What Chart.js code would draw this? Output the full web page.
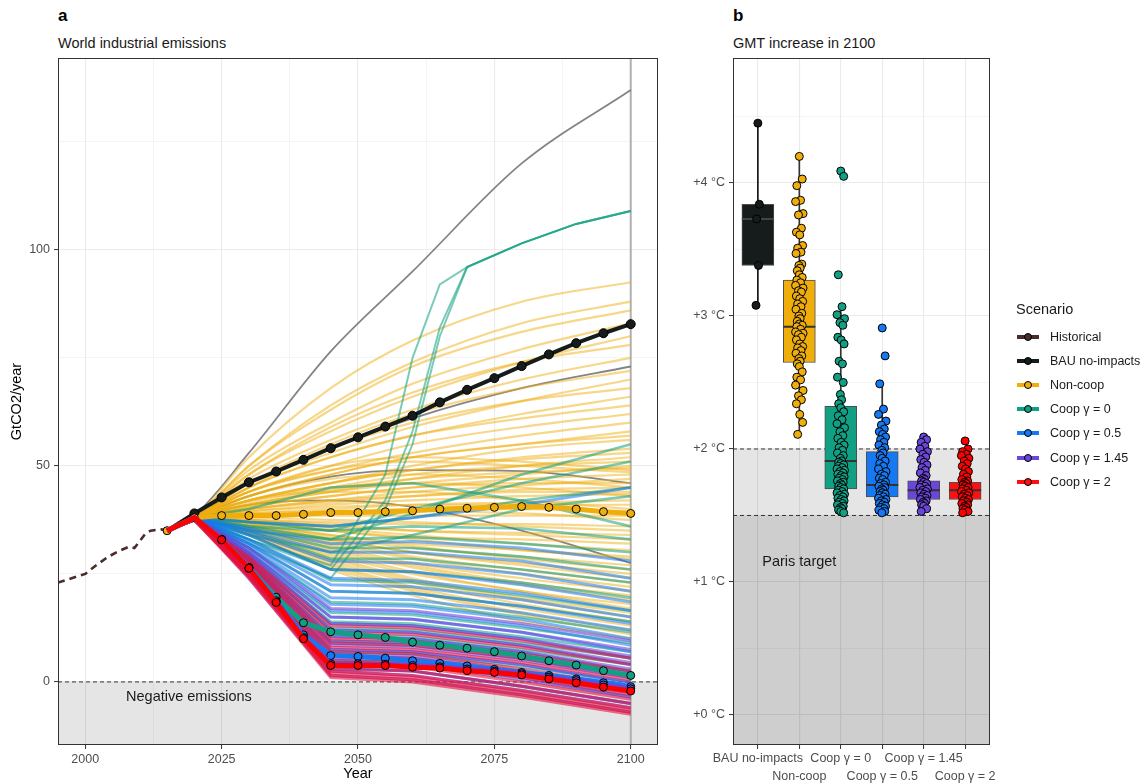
<!DOCTYPE html>
<html>
<head>
<meta charset="utf-8">
<script src="https://cdn.jsdelivr.net/npm/chart.js@4.4.1/dist/chart.umd.min.js"></script>
<style>
  body { margin: 0; background: #fff; font-family: "Liberation Sans", Arial, sans-serif; }
  #page { position: relative; width: 1145px; height: 783px; overflow: hidden; }
  .tag { position: absolute; top: 6px; font-size: 17px; font-weight: bold; color: #000; }
  .sub { position: absolute; top: 35px; font-size: 14.5px; color: #1a1a1a; }
  canvas { position: absolute; top: 0; }
  #legend { position: absolute; left: 1016px; top: 0; width: 129px; height: 783px; color: #1a1a1a; }
  #legend .ltitle { position: absolute; left: 0; top: 301px; font-size: 14.5px; }
  #legend .item { position: absolute; left: 0; height: 16px; line-height: 16px; font-size: 12.5px; white-space: nowrap; }
  #legend svg { position: absolute; left: 1px; top: 2px; }
  #legend span { position: absolute; left: 34px; top: 0; }
</style>
</head>
<body>
<div id="page">
  <div class="tag" style="left:58px">a</div>
  <div class="sub" style="left:58px">World industrial emissions</div>
  <div class="tag" style="left:733px">b</div>
  <div class="sub" style="left:733px">GMT increase in 2100</div>
  <canvas id="chartA" width="680" height="783" style="left:0"></canvas>
  <canvas id="chartB" width="465" height="783" style="left:680px"></canvas>
  <div id="legend"><div class="ltitle">Scenario</div></div>
</div>
<script>
Chart.defaults.font.family = '"Liberation Sans", Arial, sans-serif';
Chart.defaults.animation = false;

// ---------- panel a : emissions (GtCO2/year) ----------
const yearTicks = [2000, 2025, 2050, 2075, 2100];
const emissionTicks = [0, 50, 100];
const horizonYear = 2100;

const histYears = [1995, 1997, 2000, 2002, 2004, 2006, 2008, 2009, 2010, 2011, 2012, 2013, 2014, 2015];
const histValues = [23.0, 23.8, 25.0, 27.0, 28.8, 30.2, 31.3, 31.0, 32.6, 34.3, 35.0, 35.2, 35.3, 35.0];

// medians, one value every 5 years
const stepYears = [2015, 2020, 2025, 2030, 2035, 2040, 2045, 2050, 2055, 2060, 2065, 2070, 2075, 2080, 2085, 2090, 2095, 2100];
const bauValues     = [35, 39, 42.7, 46.2, 48.7, 51.4, 54.1, 56.6, 59.1, 61.6, 64.7, 67.6, 70.3, 73.1, 75.8, 78.4, 80.7, 82.8];
const nonCoopMedian = [35, 38, 38.5, 38.5, 38.5, 38.8, 39.2, 39.2, 39.4, 39.6, 40.0, 40.2, 40.4, 40.6, 40.4, 40.0, 39.4, 39.0];
const coop0Median   = [35, 38, 33.0, 26.5, 19.6, 13.7, 11.6, 10.9, 10.3, 9.2, 8.5, 7.8, 7.0, 6.0, 4.9, 3.9, 2.6, 1.5];
const coop05Median  = [35, 38, 33.0, 26.5, 18.8, 10.9, 6.1, 5.9, 5.5, 4.9, 4.3, 3.7, 2.9, 2.2, 1.5, 0.7, -0.2, -1.1];
const coop145Median = [35, 38, 32.9, 26.3, 18.5, 10.3, 4.2, 4.2, 4.1, 3.8, 3.5, 3.0, 2.5, 1.9, 1.1, 0.3, -0.7, -1.6];
const coop2Median   = [35, 38, 32.9, 26.3, 18.4, 10.0, 3.8, 3.8, 3.8, 3.4, 3.2, 2.6, 2.2, 1.6, 0.7, -0.2, -1.2, -2.1];

// individual runs, read at a few years
const lineYears = [2015, 2020, 2030, 2045, 2060, 2080, 2100];
const grayLines = [
  [35, 38.5, 53, 76.5, 95, 120, 137],
  [35, 38, 46, 54, 61, 68, 73],
  [35, 38, 43, 47.5, 49, 48.8, 46],
  [35, 38, 41, 42, 40.5, 35, 27.5]
];
const nonCoopLines = [
  [35, 38, 52, 68, 79, 88, 92.5],
  [35, 38, 50, 64, 74, 83, 88],
  [35, 38, 50, 63, 73, 81, 86],
  [35, 38, 49, 60, 69, 77, 83],
  [35, 38, 48, 58, 66, 74, 80],
  [35, 38, 48, 59, 67, 74, 78],
  [35, 38, 47, 56, 63, 70, 75],
  [35, 38, 46, 55, 62, 68, 72],
  [35, 38, 46, 53, 59, 65, 70],
  [35, 38, 45, 54, 60, 65, 68],
  [35, 38, 45, 52, 57, 62, 66],
  [35, 38, 45, 52, 57, 61, 64],
  [35, 38, 44, 50, 55, 59, 62],
  [35, 38, 44, 49, 53, 57, 60],
  [35, 38, 43, 48, 52, 55, 58],
  [35, 38, 43, 48, 52, 55, 57],
  [35, 38, 42, 46, 50, 54, 56],
  [35, 38, 42, 46, 49, 52, 54],
  [35, 38, 42, 46, 49, 51.5, 53],
  [35, 38, 41, 44, 47, 50, 52],
  [35, 38, 41.5, 45, 48, 50, 51],
  [35, 38, 41, 44, 46, 48, 50],
  [35, 38, 41, 44.5, 47, 48.5, 49.5],
  [35, 38, 44, 50, 52, 51, 49],
  [35, 38, 44, 49, 51, 50, 48.5],
  [35, 38, 40.5, 43, 45, 47, 48],
  [35, 38, 40, 42, 44, 45.5, 47],
  [35, 38, 40.5, 43, 45, 46, 46],
  [35, 38, 43, 47, 48, 47, 45],
  [35, 38, 40, 41.5, 43, 44.5, 45],
  [35, 38, 40, 42, 43, 44, 44],
  [35, 38, 39.5, 41, 42, 43, 43.5],
  [35, 38, 42, 45, 46, 45, 43],
  [35, 38, 39, 40, 41, 41.5, 42],
  [35, 38, 39.5, 40.5, 41, 41, 41],
  [35, 38, 42, 44, 44, 42, 40],
  [35, 38, 39, 39.5, 40, 40, 39.5],
  [35, 38, 38.5, 38.5, 38.5, 38.5, 38.5],
  [35, 38, 38.5, 39, 39.5, 39, 37.5],
  [35, 38, 37.5, 37, 36.5, 36.5, 36],
  [35, 38, 38, 37.5, 37, 36, 35],
  [35, 38, 37.5, 36, 35, 34.5, 34],
  [35, 38, 37.5, 36.5, 35, 34, 33],
  [35, 38, 37, 35, 33.5, 33, 32],
  [35, 38, 37, 35.5, 34, 32, 30.5],
  [35, 38, 36.5, 34, 32, 30.5, 29],
  [35, 38, 37, 35, 33, 30.5, 28.5],
  [35, 38, 36.5, 33.5, 31, 29, 27],
  [35, 38, 36.5, 34, 31.5, 28.5, 26],
  [35, 38, 36, 33, 30, 27.5, 25],
  [35, 38, 36, 33, 30, 27, 24],
  [35, 38, 36, 32.5, 29, 26, 23],
  [35, 38, 36, 32, 28.5, 25, 22],
  [35, 38, 35.5, 31.5, 27.5, 24, 21],
  [35, 38, 35.5, 31, 27, 23, 20],
  [35, 38, 35.5, 30.5, 26.5, 22.5, 19],
  [35, 38, 35, 30, 25.5, 21, 18],
  [35, 38, 35, 29.5, 25, 21, 17],
  [35, 38, 35, 29, 24, 19.5, 16],
  [35, 38, 34.5, 28.5, 23.5, 19, 15],
  [35, 38, 34.5, 28, 23, 18, 14],
  [35, 38, 34.5, 27.5, 22, 17, 13],
  [35, 38, 34, 27, 21.5, 16, 12],
  [35, 38, 34, 26.5, 21, 15.5, 11],
  [35, 38, 34, 26, 20, 14, 10]
];
const coop0Lines = [
  [35, 38, 25.5, 5, 4.5, 1.5, -2],
  [35, 38, 26.5, 7, 6.5, 3.5, 0],
  [35, 38, 27.5, 9.5, 9, 6, 2.5],
  [35, 38, 28, 11, 10.5, 7.5, 4],
  [35, 38, 28.5, 12.5, 12, 9, 5.5],
  [35, 38, 29.5, 14, 13.5, 10.5, 7],
  [35, 38, 30, 16, 15.5, 12.5, 9],
  [35, 38, 31, 18.5, 18, 15, 11.5],
  [35, 38, 32, 21, 20.5, 17.5, 14],
  [35, 38, 33, 23.5, 23, 20, 16.5],
  [35, 38, 34, 26, 25.5, 23, 19.5],
  [35, 38, 35, 28.5, 28.5, 26, 23],
  [35, 38, 35.5, 31, 31, 29, 26],
  [35, 38, 36, 33, 33.5, 32, 30],
  [35, 38, 37, 35, 36, 35.5, 33],
  [35, 38, 37, 36, 38, 42, 45],
  [35, 38, 35, 33, 39, 48, 55],
  [35, 38, 36, 35, 40, 46, 51],
  [35, 38, 40, 45, 46, 42, 36],
  [35, 38, 34, 30, 34, 40, 43]
];
const jumpYears = [2015, 2020, 2030, 2045, 2055, 2060, 2065, 2070, 2080, 2090, 2100];
const coop0JumpLines = [
  [35, 38, 33, 27, 48, 75, 92, 96, 101.5, 106, 109],
  [35, 38, 33, 26, 42, 58, 82, 96, 101.5, 106, 109],
  [35, 38, 32, 24, 40, 55, 80, 96, 101.5, 106, 109]
];
const coop05Lines = [
  [35, 38, 25, 3, 2.5, -1, -5],
  [35, 38, 26, 4.5, 4, 1, -3.5],
  [35, 38, 26.5, 6, 5.5, 2.5, -2],
  [35, 38, 27, 7.5, 7, 4, -0.5],
  [35, 38, 27.5, 9, 8.5, 5.5, 1],
  [35, 38, 28, 10.5, 10, 7, 2.5],
  [35, 38, 29, 12, 11.5, 8.5, 4],
  [35, 38, 29.5, 13.5, 13, 10, 5.5],
  [35, 38, 30, 15, 14.5, 11.5, 7],
  [35, 38, 30.5, 16.5, 16, 13, 8.5],
  [35, 38, 31, 18, 17.5, 14.5, 10],
  [35, 38, 31.5, 19.5, 19, 16, 12],
  [35, 38, 32, 21, 20.5, 17.5, 13.5],
  [35, 38, 32.5, 22.5, 22, 19, 15],
  [35, 38, 33, 24, 23.5, 20.5, 16.5],
  [35, 38, 34, 26, 25.5, 22.5, 18.5],
  [35, 38, 34.5, 28, 27.5, 25, 21],
  [35, 38, 35, 30, 30, 28, 24],
  [35, 38, 35.5, 32, 32.5, 31, 28],
  [35, 38, 37, 36, 38, 41, 45]
];
const coop145Lines = [
  [35, 38, 24, 1.5, 0.5, -3, -7],
  [35, 38, 24.5, 2.5, 1.5, -2, -6],
  [35, 38, 25, 3.5, 2.5, -1, -5],
  [35, 38, 25.5, 4.5, 4, 0.5, -3.5],
  [35, 38, 26, 5.5, 5, 1.5, -2.5],
  [35, 38, 26.5, 6.5, 6, 2.5, -1.5],
  [35, 38, 27, 7.5, 7, 4, 0],
  [35, 38, 27.5, 8.5, 8, 5, 1],
  [35, 38, 28, 9.5, 9, 6, 2],
  [35, 38, 28.5, 10.5, 10, 7, 3],
  [35, 38, 29, 12, 11.5, 8.5, 4.5],
  [35, 38, 29.5, 13.5, 13, 10, 6],
  [35, 38, 30, 15, 14.5, 11.5, 7.5],
  [35, 38, 31, 17, 16.5, 13.5, 9.5]
];
const coop2Lines = [
  [35, 37.5, 24, 1, 0, -3.5, -7.5],
  [35, 37.5, 24.5, 1.5, 0.5, -3, -7],
  [35, 37.5, 24.5, 2, 1, -2.5, -6.5],
  [35, 37.5, 25, 2.5, 1.5, -2, -6],
  [35, 37.5, 25, 3, 2.5, -1, -5],
  [35, 37.5, 25.5, 4, 3.5, 0, -4],
  [35, 37.5, 26, 5, 4.5, 1, -3],
  [35, 37.5, 26, 6, 5.5, 2, -2],
  [35, 37.5, 26.5, 7, 6.5, 3, -1],
  [35, 37.5, 27, 8, 7.5, 4.5, 0.5],
  [35, 37.5, 27.5, 9, 8.5, 5.5, 1.5],
  [35, 37.5, 28, 10, 9.5, 6.5, 2.5],
  [35, 37.5, 28.5, 11.5, 11, 8, 4],
  [35, 37.5, 29, 13, 12.5, 9.5, 5.5]
];

// ---------- panel b : GMT increase in 2100 ----------
const scenarioNames  = ['Historical', 'BAU no-impacts', 'Non-coop', 'Coop \u03b3 = 0', 'Coop \u03b3 = 0.5', 'Coop \u03b3 = 1.45', 'Coop \u03b3 = 2'];
const scenarioColors = ['#4b2c2c', '#161b1b', '#f0ae0c', '#12a085', '#1679f2', '#6b46da', '#ff1010'];
const boxCategories = ['BAU no-impacts', 'Non-coop', 'Coop \u03b3 = 0', 'Coop \u03b3 = 0.5', 'Coop \u03b3 = 1.45', 'Coop \u03b3 = 2'];
const tempTicks = [0, 1, 2, 3, 4];
const parisLimits = [2, 1.5];

const boxLow     = [3.38, 2.65, 1.70, 1.64, 1.62, 1.62];
const boxMedian  = [3.73, 2.92, 1.91, 1.73, 1.69, 1.69];
const boxHigh    = [3.84, 3.27, 2.32, 1.98, 1.76, 1.75];
const whiskerLow  = [3.08, 2.11, 1.52, 1.52, 1.53, 1.52];
const whiskerHigh = [4.45, 4.20, 3.07, 2.49, 2.00, 1.95];

const bauTemps = [4.45, 3.84, 3.73, 3.38, 3.08];
const nonCoopTemps = [4.2, 4.03, 3.98, 3.87, 3.86, 3.77, 3.76, 3.66, 3.63, 3.61, 3.53, 3.51, 3.48, 3.47, 3.39, 3.38, 3.36, 3.34,
  3.31, 3.29, 3.27, 3.25, 3.23, 3.21, 3.19, 3.18, 3.15, 3.13, 3.11, 3.09, 3.07, 3.05, 3.02, 3.0, 2.98, 2.96, 2.94, 2.93, 2.92,
  2.9, 2.88, 2.87, 2.86, 2.84, 2.82, 2.79, 2.77, 2.76, 2.74, 2.72, 2.7, 2.68, 2.66, 2.64, 2.62, 2.58, 2.54, 2.52, 2.48, 2.44,
  2.4, 2.37, 2.34, 2.26, 2.2, 2.11];
const coop0Temps = [4.09, 4.05, 3.31, 3.07, 3.01, 2.98, 2.95, 2.93, 2.84, 2.82, 2.79, 2.66, 2.64, 2.54, 2.5, 2.41, 2.37, 2.34,
  2.31, 2.28, 2.25, 2.22, 2.19, 2.16, 2.13, 2.1, 2.08, 2.05, 2.03, 2.01, 1.99, 1.97, 1.95, 1.93, 1.91, 1.9, 1.89, 1.88, 1.87,
  1.86, 1.85, 1.84, 1.83, 1.82, 1.81, 1.8, 1.79, 1.78, 1.77, 1.76, 1.75, 1.74, 1.73, 1.72, 1.71, 1.7, 1.69, 1.68, 1.67, 1.66,
  1.65, 1.64, 1.63, 1.62, 1.61, 1.6, 1.59, 1.58, 1.57, 1.56, 1.55, 1.54, 1.53, 1.52];
const coop05Temps = [2.91, 2.7, 2.49, 2.3, 2.26, 2.21, 2.18, 2.15, 2.13, 2.11, 2.09, 2.07, 2.05, 2.03, 2.01, 1.99, 1.97, 1.95,
  1.93, 1.91, 1.89, 1.87, 1.85, 1.83, 1.81, 1.8, 1.78, 1.77, 1.75, 1.74, 1.73, 1.72, 1.71, 1.7, 1.69, 1.68, 1.67, 1.66, 1.65,
  1.64, 1.63, 1.62, 1.61, 1.6, 1.59, 1.58, 1.57, 1.56, 1.55, 1.54, 1.53, 1.52];
const coop145Temps = [2.09, 2.07, 2.05, 2.02, 2.0, 1.98, 1.96, 1.94, 1.92, 1.9, 1.88, 1.86, 1.84, 1.82, 1.8, 1.78, 1.77, 1.76,
  1.75, 1.74, 1.73, 1.72, 1.71, 1.7, 1.69, 1.68, 1.67, 1.66, 1.65, 1.64, 1.63, 1.62, 1.61, 1.6, 1.59, 1.58, 1.57, 1.55, 1.53];
const coop2Temps = [2.06, 2.0, 1.98, 1.96, 1.95, 1.93, 1.91, 1.89, 1.87, 1.85, 1.83, 1.81, 1.79, 1.77, 1.76, 1.75, 1.74, 1.73,
  1.72, 1.71, 1.7, 1.69, 1.68, 1.67, 1.66, 1.65, 1.64, 1.63, 1.62, 1.61, 1.6, 1.59, 1.58, 1.57, 1.56, 1.55, 1.54, 1.53, 1.52];
const jitterPattern = [0.00, 0.07, -0.06, 0.03, -0.09, 0.09, -0.02, 0.05, -0.07, 0.01, 0.08, -0.04, 0.04, -0.08, 0.06, -0.01, 0.02, -0.05];

// ---------- shared plugins ----------
const panelBorder = {
  id: 'panelBorder',
  afterDraw(chart) {
    const { ctx, chartArea: a } = chart;
    ctx.save();
    ctx.strokeStyle = '#333';
    ctx.lineWidth = 1;
    ctx.strokeRect(a.left + 0.5, a.top + 0.5, a.width - 1, a.height - 1);
    ctx.restore();
  }
};
const notes = {
  id: 'notes',
  afterDatasetsDraw(chart, args, opts) {
    const ctx = chart.ctx;
    ctx.save();
    ctx.font = '14.5px "Liberation Sans", Arial, sans-serif';
    ctx.fillStyle = '#1a1a1a';
    ctx.textAlign = 'center';
    ctx.textBaseline = 'middle';
    opts.items.forEach(n => {
      ctx.fillText(n.text, chart.scales.x.getPixelForValue(n.x), chart.scales.y.getPixelForValue(n.y));
    });
    ctx.restore();
  }
};

const gridStyle = (majors) => ({
  color: '#ebebeb',
  offset: false,
  lineWidth: c => (c.tick && majors.includes(c.tick.value)) ? 1.1 : 0.55,
  tickColor: c => (c.tick && majors.includes(c.tick.value)) ? '#333' : 'rgba(0,0,0,0)',
  tickWidth: 1,
  tickLength: 4,
  drawTicks: true
});
// majors plus the half-way minor lines, kept inside the axis range
const withMinors = (majors, lo, hi) => {
  const step = majors[1] - majors[0];
  const out = [];
  for (let v = majors[0] - step / 2; v <= majors[majors.length - 1] + step / 2 + 1e-9; v += step / 2) {
    if (v >= lo && v <= hi) out.push(v);
  }
  return out;
};

// ---------- chart a ----------
const yearMin = 1995, yearMax = 2105, emisMin = -14.6, emisMax = 144.4;
const layersA = [];
const pts = (xs, ys) => xs.map((x, i) => ({ x: x, y: ys[i] }));
const addLine = (xs, ys, color, width, extra) => {
  layersA.push(Object.assign({
    type: 'line', data: pts(xs, ys), borderColor: color, borderWidth: width,
    pointRadius: 0, fill: false, tension: 0
  }, extra || {}));
};
const smooth = { cubicInterpolationMode: 'monotone' };

layersA.push({ type: 'line', data: [{ x: yearMin, y: 0 }, { x: yearMax, y: 0 }], fill: 'start',
  backgroundColor: 'rgba(0,0,0,0.1)', borderColor: '#333', borderWidth: 1, borderDash: [4, 3], pointRadius: 0 });
layersA.push({ type: 'line', data: [{ x: horizonYear, y: emisMin }, { x: horizonYear, y: emisMax }],
  borderColor: '#b0b0b0', borderWidth: 2, pointRadius: 0 });

grayLines.forEach(v => addLine(lineYears, v, 'rgba(110,110,110,0.85)', 1.8, smooth));
nonCoopLines.forEach(v => addLine(lineYears, v, 'rgba(240,176,20,0.5)', 2.2, smooth));
coop0Lines.forEach(v => addLine(lineYears, v, 'rgba(16,158,128,0.55)', 2.6));
coop0JumpLines.forEach(v => addLine(jumpYears, v, 'rgba(16,158,128,0.55)', 2));
coop05Lines.forEach(v => addLine(lineYears, v, 'rgba(22,120,240,0.55)', 3));
coop145Lines.forEach(v => addLine(lineYears, v, 'rgba(112,66,214,0.6)', 3));
coop2Lines.forEach(v => addLine(lineYears, v, 'rgba(232,16,60,0.6)', 3));

addLine(histYears, histValues, scenarioColors[0], 2.6, { borderDash: [7, 5] });

const medianLayer = (values, color, width, firstPoint, radius) => addLine(stepYears, values, color, width, {
  pointRadius: c => c.dataIndex < firstPoint ? 0 : radius,
  pointBackgroundColor: color, pointBorderColor: '#000', pointBorderWidth: 1
});
medianLayer(bauValues, scenarioColors[1], 4, 1, 4.5);
medianLayer(nonCoopMedian, scenarioColors[2], 5, 0, 4);
medianLayer(coop0Median, scenarioColors[3], 5, 2, 4);
medianLayer(coop05Median, scenarioColors[4], 5, 2, 4);
medianLayer(coop145Median, scenarioColors[5], 5, 2, 4);
medianLayer(coop2Median, '#ff0000', 5, 2, 4);

layersA.forEach((d, i) => { d.order = layersA.length - i; });

new Chart(document.getElementById('chartA'), {
  type: 'scatter',
  data: { datasets: layersA },
  options: {
    responsive: false,
    events: [],
    layout: { padding: { top: 58, right: 22, left: 0, bottom: 0 } },
    plugins: { legend: { display: false }, tooltip: { enabled: false },
      notes: { items: [{ text: 'Negative emissions', x: 2019, y: -3.5 }] } },
    scales: {
      x: {
        type: 'linear', min: yearMin, max: yearMax, offset: false,
        afterBuildTicks: s => { s.ticks = withMinors(yearTicks, yearMin, yearMax).map(v => ({ value: v })); },
        afterFit: s => { s.height = 38; },
        ticks: { callback: v => yearTicks.includes(v) ? String(v) : '', color: '#4d4d4d',
          font: { size: 12.5 }, padding: 3, autoSkip: false, maxRotation: 0, minRotation: 0 },
        grid: gridStyle(yearTicks),
        border: { display: false },
        title: { display: true, text: 'Year', color: '#000', font: { size: 14.5 }, padding: 0 }
      },
      y: {
        type: 'linear', min: emisMin, max: emisMax,
        afterBuildTicks: s => { s.ticks = withMinors(emissionTicks, emisMin, emisMax).map(v => ({ value: v })); },
        afterFit: s => { s.width = 58; },
        ticks: { callback: v => emissionTicks.includes(v) ? String(v) : '', color: '#4d4d4d',
          font: { size: 12.5 }, padding: 4 },
        grid: gridStyle(emissionTicks),
        border: { display: false },
        title: { display: true, text: 'GtCO2/year', color: '#000', font: { size: 14.5 }, padding: { top: 8, bottom: 0 } }
      }
    }
  },
  plugins: [panelBorder, notes]
});

// ---------- chart b ----------
const catMin = 0.4, catMax = 6.6, tempMin = -0.226, tempMax = 4.94;
const layersB = [];
parisLimits.forEach(lim => layersB.push({
  type: 'line', data: [{ x: catMin, y: lim }, { x: catMax, y: lim }], fill: 'start',
  backgroundColor: 'rgba(0,0,0,0.1)', borderColor: '#333', borderWidth: 1, borderDash: [4, 3], pointRadius: 0
}));
layersB.push({
  type: 'bar', grouped: false, barThickness: 1,
  data: boxCategories.map((c, i) => ({ x: i + 1, y: [whiskerLow[i], whiskerHigh[i]] })),
  backgroundColor: boxCategories.map((c, i) => i === 0 ? '#111' : '#333')
});
layersB.push({
  type: 'bar', grouped: false, barThickness: 32, borderSkipped: false, borderWidth: 1,
  data: boxCategories.map((c, i) => ({ x: i + 1, y: [boxLow[i], boxHigh[i]] })),
  backgroundColor: scenarioColors.slice(1), borderColor: '#4d4d4d'
});
layersB.push({
  type: 'scatter', pointStyle: 'line', pointRadius: 16, pointBorderWidth: 2,
  data: boxCategories.map((c, i) => ({ x: i + 1, y: boxMedian[i] })),
  pointBorderColor: boxCategories.map((c, i) => i === 0 ? '#444' : '#333')
});
[bauTemps, nonCoopTemps, coop0Temps, coop05Temps, coop145Temps, coop2Temps].forEach((temps, i) => {
  layersB.push({
    type: 'scatter', pointRadius: 4, pointBorderWidth: 1, pointBorderColor: '#000',
    pointBackgroundColor: i === 5 ? '#ff0000' : scenarioColors[i + 1],
    data: temps.map((t, j) => ({ x: i + 1 + jitterPattern[j % jitterPattern.length] * (i === 0 ? 0.5 : 1), y: t }))
  });
});
layersB.forEach((d, i) => { d.order = layersB.length - i; });

new Chart(document.getElementById('chartB'), {
  type: 'scatter',
  data: { datasets: layersB },
  options: {
    responsive: false,
    events: [],
    layout: { padding: { top: 58, right: 155, left: 0, bottom: 0 } },
    plugins: { legend: { display: false }, tooltip: { enabled: false },
      notes: { items: [{ text: 'Paris target', x: 2, y: 1.15 }] } },
    scales: {
      x: {
        type: 'linear', min: catMin, max: catMax, offset: false,
        afterBuildTicks: s => { s.ticks = boxCategories.map((c, i) => ({ value: i + 1 })); },
        afterFit: s => { s.height = 38; },
        ticks: {
          callback: (v, i) => i % 2 === 0 ? [boxCategories[i]] : ['', boxCategories[i]],
          color: '#4d4d4d', font: { size: 12.5, lineHeight: 1.45 }, padding: 0,
          autoSkip: false, maxRotation: 0, minRotation: 0
        },
        grid: { color: '#ebebeb', offset: false, lineWidth: 1.1, tickColor: '#333', tickWidth: 1, tickLength: 4 },
        border: { display: false }
      },
      y: {
        type: 'linear', min: tempMin, max: tempMax,
        afterBuildTicks: s => { s.ticks = withMinors(tempTicks, tempMin, tempMax).map(v => ({ value: v })); },
        afterFit: s => { s.width = 53; },
        ticks: { callback: v => tempTicks.includes(v) ? '+' + v + ' \u00b0C' : '', color: '#4d4d4d',
          font: { size: 12.5 }, padding: 4 },
        grid: gridStyle(tempTicks),
        border: { display: false }
      }
    }
  },
  plugins: [panelBorder, notes]
});

// ---------- legend ----------
const legendBox = document.getElementById('legend');
scenarioNames.forEach((name, i) => {
  const row = document.createElement('div');
  row.className = 'item';
  row.style.top = (329 + i * 24.1) + 'px';
  const col = scenarioColors[i];
  row.innerHTML = '<svg width="22" height="12"><line x1="0" y1="6" x2="22" y2="6" stroke="' + col +
    '" stroke-width="4"/><circle cx="11" cy="6" r="3.5" fill="' + col + '" stroke="#000" stroke-width="1"/></svg><span>' +
    name + '</span>';
  legendBox.appendChild(row);
});
</script>
</body>
</html>
